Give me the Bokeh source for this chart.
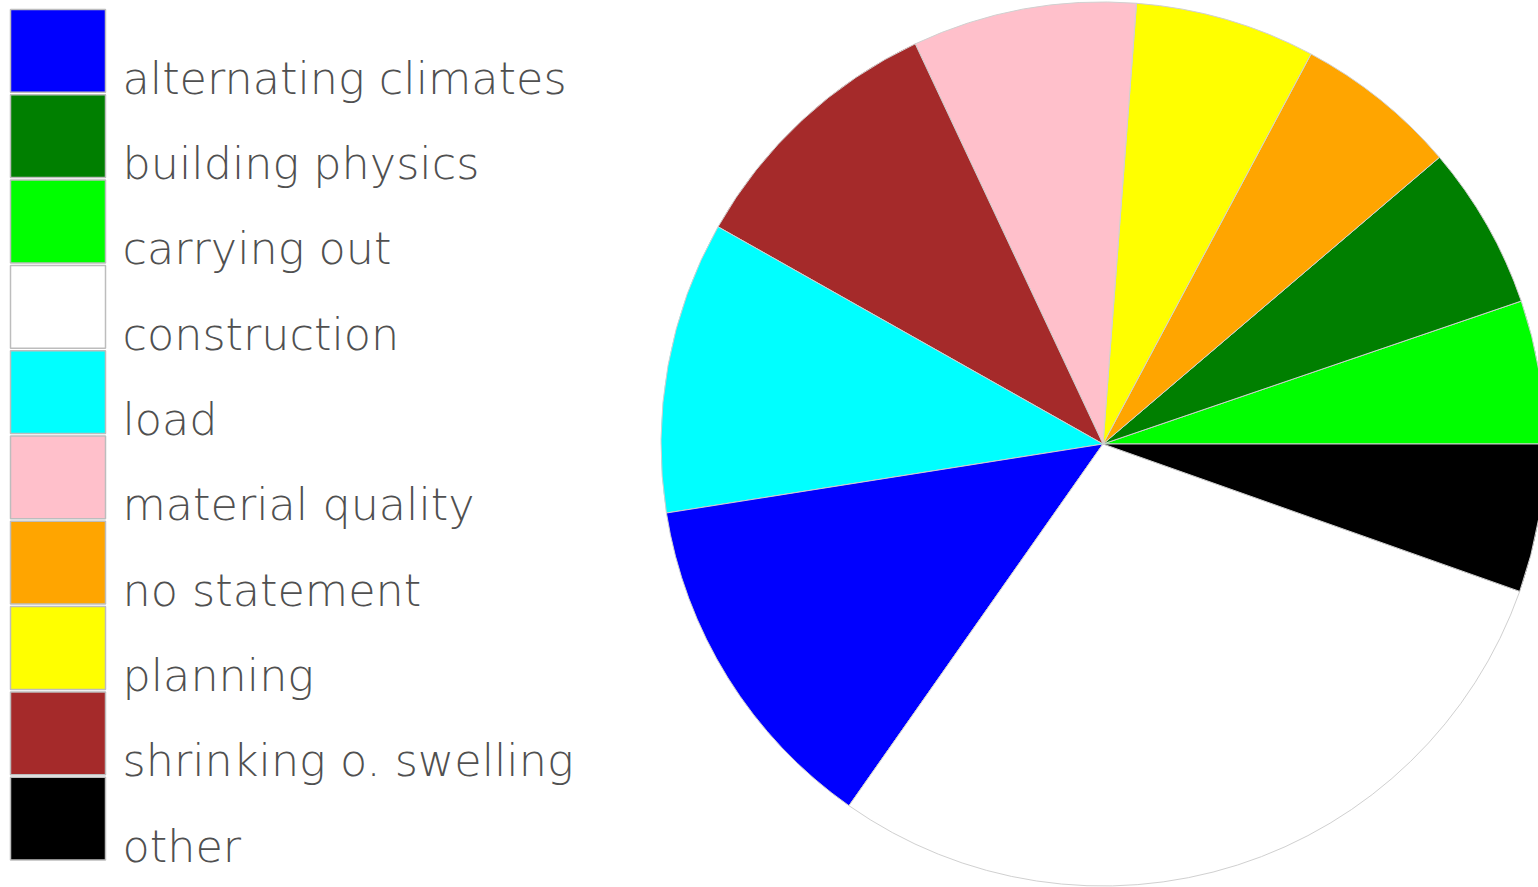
import math
from bokeh.plotting import figure
from bokeh.models import Range1d, ColumnDataSource
from bokeh.core.properties import value
from bokeh.embed import file_html
from bokeh.resources import INLINE

# Legend order
legend_labels = ["alternating climates", "building physics", "carrying out", "construction",
                 "load", "material quality", "no statement", "planning",
                 "shrinking o. swelling", "other"]
legend_colors = ["#0000ff", "#007f00", "#00ff00", "#ffffff", "#00ffff", "#ffc0cb",
                 "#ffa500", "#ffff00", "#a52a2a", "#000000"]

# Pie order (counter-clockwise from 3 o'clock), shares in percent
pie_labels = ["carrying out", "building physics", "no statement", "planning",
              "material quality", "shrinking o. swelling", "load",
              "alternating climates", "construction", "other"]
pie_values = [5.24, 5.99, 5.97, 6.59, 8.19, 9.84, 10.67, 12.76, 29.33, 5.41]

W, H = 1538, 887
p = figure(width=W, height=H, output_backend="svg", toolbar_location=None,
           x_range=Range1d(0, W), y_range=Range1d(0, H), min_border=0)
p.axis.visible = False
p.grid.visible = False
p.outline_line_color = None
p.background_fill_color = "white"
p.border_fill_color = "white"

color_of = dict(zip(legend_labels, legend_colors))
total = sum(pie_values)
starts, ends, cols = [], [], []
acc = 0.0
for lab, v in zip(pie_labels, pie_values):
    a0 = acc / total * 2 * math.pi
    acc += v
    a1 = acc / total * 2 * math.pi
    starts.append(a0)
    ends.append(a1)
    cols.append(color_of[lab])

cx, cy, r = 1102.5, H - 443.5, 442
src = ColumnDataSource(dict(x=[cx] * len(starts), y=[cy] * len(starts),
                            s=starts, e=ends, c=cols))
p.wedge(x="x", y="y", radius=r, start_angle="s", end_angle="e", fill_color="c",
        line_color="#d0d0d0", line_width=1, source=src)

# Legend
row_h = 85.3
top0 = 9
lefts, rights, tops, bottoms, tx, ty = [], [], [], [], [], []
for i in range(len(legend_labels)):
    t = top0 + i * row_h
    b = t + row_h - 2.5
    lefts.append(10)
    rights.append(105)
    tops.append(H - t)
    bottoms.append(H - b)
    tx.append(122)
    ty.append(H - (b - 14))
lsrc = ColumnDataSource(dict(l=lefts, r=rights, t=tops, b=bottoms, c=legend_colors,
                             tx=tx, ty=ty, txt=legend_labels))
p.quad(left="l", right="r", top="t", bottom="b", fill_color="c",
       line_color="#bdbdbd", line_width=1.5, source=lsrc)
p.text(x="tx", y="ty", text="txt", source=lsrc,
       text_font=value("'DejaVu Sans ExtraLight', 'DejaVu Sans Light', 'DejaVu Sans'"),
       text_font_size="44.5px", text_color="#505050", text_baseline="alphabetic",
       text_align="left")

open("out.html", "w").write(file_html(p, INLINE))
